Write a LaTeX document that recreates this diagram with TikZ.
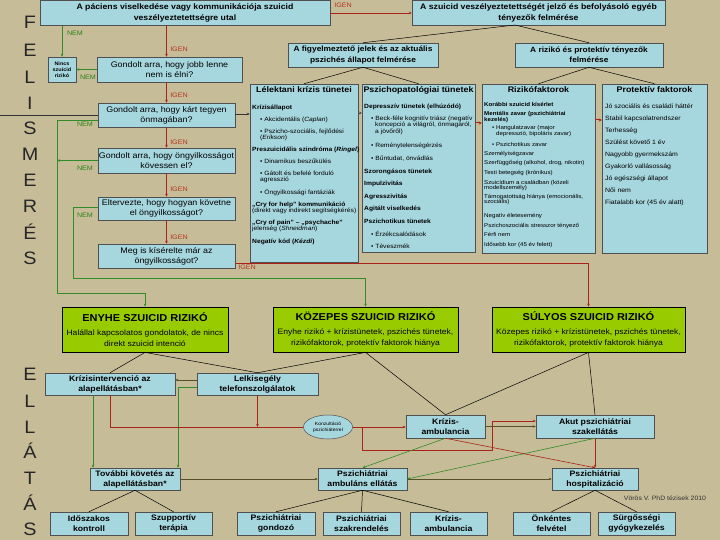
\documentclass[tikz,border=0pt]{standalone}
\usepackage{fontspec}
\setmainfont{Liberation Sans}[FakeStretch=1.1]
\usetikzlibrary{arrows.meta,shapes.geometric}
\definecolor{bg}{RGB}{199,188,152}
\definecolor{boxblue}{RGB}{166,214,222}
\definecolor{boxborder}{RGB}{80,80,80}
\definecolor{boxgreen}{RGB}{153,204,0}
\definecolor{redline}{RGB}{170,35,25}
\definecolor{greenline}{RGB}{50,140,40}
\definecolor{oliveline}{RGB}{85,80,40}
\definecolor{igentext}{RGB}{180,50,30}
\definecolor{nemtext}{RGB}{40,130,20}
\newcommand{\myfs}[2]{\fontsize{#1}{#2}\selectfont}
\begin{document}
\begin{tikzpicture}[x=1pt,y=-1pt,
  bbox/.style={draw=boxborder, fill=boxblue, line width=0.5pt, inner sep=0.5pt, align=center},
  tb/.style={bbox, font=\bfseries\myfs{7.9}{11}},
  qb/.style={bbox, font=\myfs{8.1}{10}},
  eb/.style={bbox, font=\bfseries\myfs{7.9}{10}},
  gb/.style={draw=black, fill=boxgreen, line width=0.8pt, inner sep=0.5pt, align=center, font=\myfs{7.8}{11}},
  cb/.style={draw=boxborder, fill=boxblue, line width=0.5pt, inner sep=0pt},
  ttl/.style={font=\bfseries\myfs{8.1}{9}, inner sep=0pt},
  txt/.style={anchor=north west, align=left, inner sep=0pt},
  letter/.style={font=\myfs{18}{20}, text=black!85, inner sep=0pt},
  igen/.style={font=\myfs{6.5}{7}, text=igentext, inner sep=0pt},
  nem/.style={font=\myfs{6.5}{7}, text=nemtext, inner sep=0pt},
  arw/.style={-{Stealth[length=3pt,width=2.6pt]}},
  rl/.style={draw=redline, line width=0.6pt},
  gl/.style={draw=greenline, line width=0.6pt},
  ol/.style={draw=oliveline, line width=0.6pt},
  bl/.style={draw=black, line width=0.5pt},
]
\fill[bg] (0,0) rectangle (720,540);
\useasboundingbox (0,0) rectangle (720,540);

% side letters
\foreach \ch/\yy [count=\i] in {F/22,E/50,L/77,I/103,S/128,M/154,E/180,R/206,É/232,S/258}
  \node[letter] (fel\i) at (30,\yy) {\ch};
\foreach \ch/\yy [count=\i] in {E/374,L/401,L/427,Á/451,T/478,Á/503,S/529}
  \node[letter] (ell\i) at (30,\yy) {\ch};

% top boxes
\node[tb, minimum width=290pt, minimum height=25pt] (a) at (185,13) {A páciens viselkedése vagy kommunikációja szuicid\\veszélyeztetettségre utal};
\node[tb, minimum width=253pt, minimum height=25pt] (b) at (538.5,13) {A szuicid veszélyeztetettségét jelző és befolyásoló egyéb\\tényezők felmérése};
\node[bbox, font=\bfseries\myfs{5}{6.2}, minimum width=28pt, minimum height=25pt] (nincs) at (62,69.5) {Nincs\\szuicid\\rizikó};
\node[qb, minimum width=145pt, minimum height=25pt] (q1) at (169.5,69.5) {Gondolt arra, hogy jobb lenne\\nem is élni?};
\node[qb, minimum width=137pt, minimum height=24pt] (q2) at (166.5,115) {Gondolt arra, hogy kárt tegyen\\önmagában?};
\node[qb, minimum width=137pt, minimum height=25pt] (q3) at (166.5,160.5) {Gondolt arra, hogy öngyilkosságot\\kövessen el?};
\node[qb, minimum width=137pt, minimum height=23pt] (q4) at (166.5,208.5) {Eltervezte, hogy hogyan követne\\el öngyilkosságot?};
\node[qb, minimum width=137pt, minimum height=24pt] (q5) at (166.5,256) {Meg is kísérelte már az\\öngyilkosságot?};
\node[tb, font=\bfseries\myfs{7.6}{10.5}, minimum width=150pt, minimum height=24pt] (f) at (363,55) {A figyelmeztető jelek és az aktuális\\pszichés állapot felmérése};
\node[tb, font=\bfseries\myfs{7.6}{10.5}, minimum width=148pt, minimum height=24pt] (r) at (589,55) {A rizikó és protektív tényezők\\felmérése};

% content boxes
\node[cb, minimum width=108pt, minimum height=178pt] (lel) at (304,173) {};
\node[cb, minimum width=113pt, minimum height=168pt] (psy) at (418.5,168) {};
\node[cb, minimum width=113pt, minimum height=169pt] (riz) at (538.5,168.5) {};
\node[cb, minimum width=105pt, minimum height=169pt] (prot) at (654.5,168.5) {};
\node[ttl] (lelt) at (304,90) {Lélektani krízis tünetei};
\node[ttl] (psyt) at (418.5,90) {Pszichopatológiai tünetek};
\node[ttl] (rizt) at (538.5,90) {Rizikófaktorok};
\node[ttl] (prott) at (654.5,90) {Protektív faktorok};

\node[txt, font=\myfs{6.1}{6}] (lelx) at (252,104.5) {%
\textbf{Krízisállapot}\\[6.5pt]
\hspace*{8pt}• Akcidentális (\textit{Caplan})\\[5.5pt]
\hspace*{8pt}• Pszicho-szociális, fejlődési\\
\hspace*{8pt}(\textit{Erikson})\\[6.5pt]
\textbf{Preszuicidális szindróma (\textit{Ringel})}\\[5.5pt]
\hspace*{8pt}• Dinamikus beszűkülés\\[6pt]
\hspace*{8pt}• Gátolt és befelé forduló\\
\hspace*{8pt}agresszió\\[6pt]
\hspace*{8pt}• Öngyilkossági fantáziák\\[6pt]
\textbf{„Cry for help” kommunikáció}\\
(direkt vagy indirekt segítségkérés)\\[6pt]
\textbf{„Cry of pain” – „psychache”}\\
jelenség (\textit{Shneidman})\\[7pt]
\textbf{Negatív kód (\textit{Kézdi})}};

\node[txt, font=\myfs{6.1}{6.3}] (psyx) at (364,103.5) {%
\textbf{Depresszív tünetek (elhúzódó)}\\[6pt]
\hspace*{7pt}• Beck-féle kognitív triász (negatív\\
\hspace*{11pt}koncepció a világról, önmagáról,\\
\hspace*{11pt}a jövőről)\\[8.5pt]
\hspace*{7pt}• Reménytelenségérzés\\[6.3pt]
\hspace*{7pt}• Bűntudat, önvádlás\\[6.3pt]
\textbf{Szorongásos tünetek}\\[6.3pt]
\textbf{Impulzivitás}\\[6.3pt]
\textbf{Agresszivitás}\\[6.3pt]
\textbf{Agitált viselkedés}\\[6.3pt]
\textbf{Pszichotikus tünetek}\\[6.3pt]
\hspace*{7pt}• Érzékcsalódások\\[6.3pt]
\hspace*{7pt}• Téveszmék};

\node[txt, font=\myfs{5.6}{5.5}] (rizx) at (484,102) {%
\textbf{Korábbi szuicid kísérlet}\\[4pt]
\textbf{Mentális zavar (pszichiátriai}\\
\textbf{kezelés)}\\[3pt]
\hspace*{8pt}• Hangulatzavar (major\\
\hspace*{12pt}depresszió, bipoláris zavar)\\[6pt]
\hspace*{8pt}• Pszichotikus zavar\\[3pt]
Személyiségzavar\\[4pt]
Szerfüggőség (alkohol, drog, nikotin)\\[4pt]
Testi betegség (krónikus)\\[4.5pt]
Szuicídium a családban (közeli\\
modellszemély)\\[3pt]
Támogatottság hiánya (emocionális,\\
szociális)\\[8pt]
Negatív életesemény\\[4.5pt]
Pszichoszociális stresszor tényező\\[4pt]
Férfi nem\\[4.5pt]
Idősebb kor (45 év felett)};

\node[txt, font=\myfs{6.3}{6.5}] (protx) at (605,103.5) {%
Jó szociális és családi háttér\\[5.5pt]
Stabil kapcsolatrendszer\\[5.5pt]
Terhesség\\[5.5pt]
Szülést követő 1 év\\[5.5pt]
Nagyobb gyermekszám\\[5.5pt]
Gyakorló vallásosság\\[5.5pt]
Jó egészségi állapot\\[5.5pt]
Női nem\\[5.5pt]
Fiatalabb kor (45 év alatt)};

% risk boxes
\node[gb, minimum width=166pt, minimum height=45pt] (eny) at (145,329.5) {{\bfseries\myfs{10}{11}ENYHE SZUICID RIZIKÓ}\\[3pt]Halállal kapcsolatos gondolatok, de nincs\\direkt szuicid intenció};
\node[gb, minimum width=185pt, minimum height=45pt] (koz) at (365.5,329.5) {{\bfseries\myfs{10}{11}KÖZEPES SZUICID RIZIKÓ}\\[3pt]Enyhe rizikó + krízistünetek, pszichés tünetek,\\rizikófaktorok, protektív faktorok hiánya};
\node[gb, minimum width=193pt, minimum height=45pt] (sul) at (588.5,329.5) {{\bfseries\myfs{10}{11}SÚLYOS SZUICID RIZIKÓ}\\[3pt]Közepes rizikó + krízistünetek, pszichés tünetek,\\rizikófaktorok, protektív faktorok hiánya};

% care boxes
\node[eb, minimum width=130pt, minimum height=22pt] (kint) at (110,384) {Krízisintervenció az\\alapellátásban*};
\node[eb, minimum width=121pt, minimum height=22pt] (lelki) at (257.5,384) {Lelkisegély\\telefonszolgálatok};
\node[ellipse, draw=boxborder, fill=boxblue, line width=0.5pt, minimum width=49pt, minimum height=24pt, inner sep=0pt, align=center, font=\myfs{4.6}{5.8}] (kons) at (328,427) {Konzultáció\\pszichiáterrel};
\node[eb, minimum width=79pt, minimum height=23pt] (kamb) at (445.5,426.5) {Krízis-\\ambulancia};
\node[eb, minimum width=118pt, minimum height=23pt] (akut) at (595,426.5) {Akut pszichiátriai\\szakellátás};
\node[eb, minimum width=90pt, minimum height=22pt] (tov) at (135,479) {További követés az\\alapellátásban*};
\node[eb, minimum width=89pt, minimum height=22pt] (psamb) at (362.5,479) {Pszichiátriai\\ambuláns ellátás};
\node[eb, minimum width=86pt, minimum height=22pt] (hosp) at (595,479) {Pszichiátriai\\hospitalizáció};
\node[eb, minimum width=78pt, minimum height=23pt] (idosz) at (89,523.5) {Időszakos\\kontroll};
\node[eb, minimum width=77pt, minimum height=23pt] (szupp) at (173.5,523.5) {Szupportív\\terápia};
\node[eb, minimum width=78pt, minimum height=23pt] (gond) at (276,523.5) {Pszichiátriai\\gondozó};
\node[eb, minimum width=77pt, minimum height=23pt] (szak) at (361.5,523.5) {Pszichiátriai\\szakrendelés};
\node[eb, minimum width=77pt, minimum height=23pt] (kamb2) at (448.5,523.5) {Krízis-\\ambulancia};
\node[eb, minimum width=77pt, minimum height=23pt] (onk) at (551.5,523.5) {Önkéntes\\felvétel};
\node[eb, minimum width=77pt, minimum height=23pt] (surg) at (636.5,523.5) {Sürgősségi\\gyógykezelés};
\node[font=\myfs{6.3}{7}, text=black!80, inner sep=0pt] (src) at (665,498) {Vörös V. PhD tézisek 2010};

% ---- connectors: top
\draw[rl,arw] (a.east) -- (b.west);
\node[igen] (ig0) at (343,5) {IGEN};
\draw[gl,arw] (a.south -| nincs.north) -- (nincs.north);
\node[nem] (n0) at (75,33) {NEM};
\draw[gl,arw] (q1.west) -- (nincs.east);
\node[nem] (n1) at (88,77) {NEM};
\coordinate (xr) at (166.5,0);
\draw[rl,arw] (a.south -| xr) -- (q1.north -| xr);
\draw[rl,arw] (q1.south -| xr) -- (q2.north);
\draw[rl,arw] (q2.south) -- (q3.north);
\draw[rl,arw] (q3.south) -- (q4.north);
\draw[rl,arw] (q4.south) -- (q5.north);
\node[igen] (ig1) at (179,49) {IGEN};
\node[igen] (ig2) at (179,95) {IGEN};
\node[igen] (ig3) at (179,142) {IGEN};
\node[igen] (ig4) at (179,189) {IGEN};
\node[igen] (ig5) at (179,237) {IGEN};

% tree lines top
\coordinate (bb) at (515,25);
\draw[bl] (bb) -- (f.north);
\draw[bl] (bb) -- (r.north);
\draw[bl] (f.south) -- (lel.north);
\draw[bl] (f.south) -- (psy.north);
\draw[bl] (r.south) -- (riz.north);
\draw[bl] (r.south) -- (prot.north);

% rough line and small markers
\coordinate (l0) at (0,116);
\coordinate (l1) at (0,114);
\draw[draw=black!80, line width=1pt] (l0) -- (q2.west |- l0);
\draw[draw=black!80, line width=0.8pt, arw] (q2.east |- l1) -- (lel.west |- l1);
\coordinate (c113) at (0,113);
\coordinate (c123) at (0,123);
\coordinate (c120) at (0,120);
\draw[draw=black!70, line width=0.6pt, -{Stealth[length=2.5pt,width=2.5pt]}] (lel.east |- c113) -- (psy.west |- c113);
\draw[draw=redline, line width=1pt, -{Stealth[length=3pt,width=3pt]}] (psy.east |- c123) -- (riz.west |- c123);
\draw[draw=redline, line width=1pt, -{Stealth[length=3pt,width=3pt]}] (riz.east |- c120) -- (prot.west |- c120);

% NEM branches
\coordinate (g1) at (57,120);
\coordinate (g2) at (57,293);
\draw[gl,arw] (q2.west |- g1) -- (g1) -- (g2) -- (g2 -| eny.north) -- (eny.north);
\node[nem] (n2) at (85,124.5) {NEM};
\draw[gl,arw] (q3.west) -- (q3.west -| g1);
\node[nem] (n3) at (85,168) {NEM};
\coordinate (h1) at (73,207);
\coordinate (h2) at (73,278);
\draw[gl,arw] (q4.west |- h1) -- (h1) -- (h2) -- (h2 -| koz.north) -- (koz.north);
\node[nem] (n4) at (85,215) {NEM};

% Q5 IGEN -> severe
\coordinate (r1) at (588.5,263.5);
\draw[rl,arw] (q5.east |- r1) -- (r1) -- (sul.north);
\node[igen] (ig6) at (247,267.5) {IGEN};

% risk -> care
\draw[bl] (eny.south) -- (kint.north);
\draw[bl] (eny.south) -- (lelki.north);
\draw[bl] (koz.south) -- (lelki.north);
\draw[bl] (koz.south) -- (kamb.north);
\draw[bl] (sul.south) -- (kamb.north);
\draw[bl] (sul.south) -- (akut.north);

% care connectors
\coordinate (c380) at (0,380);
\draw[ol,arw] (lelki.west |- c380) -- (kint.east |- c380);
\coordinate (k1) at (178,387);
\draw[gl,arw] (lelki.west |- k1) -- (k1) -- (k1 |- tov.north);
\coordinate (k2) at (93,0);
\draw[gl,arw] (kint.south -| k2) -- (tov.north -| k2);
\coordinate (r2) at (110,427);
\draw[rl] (kint.south) -- (r2) -- (kons.west);
\draw[rl,arw] (lelki.south) -- (lelki.south |- r2);
\draw[rl,arw] (kons.east) -- (kamb.west |- kons.east);
\coordinate (r3) at (362,427);
\coordinate (r4) at (362,450);
\coordinate (r5) at (492,450);
\coordinate (r6) at (492,421);
\draw[rl,arw] (r3) -- (r4) -- (r5) -- (r6) -- (akut.west |- r6);
\draw[ol,arw] (kamb.east) -- (akut.west |- kamb.east);
\draw[gl,arw] (kamb.south) -- (psamb.north);
\draw[gl,arw] (akut.south) -- (psamb.east);
\draw[rl,arw] (kamb.south) -- (hosp.north);
\draw[rl,arw] (akut.south) -- (hosp.north);
\draw[ol,arw] (tov.east) -- (psamb.west);
\draw[ol,arw] (psamb.east) -- (hosp.west);

% bottom tree
\draw[bl] (tov.south) -- (idosz.north);
\draw[bl] (tov.south) -- (szupp.north);
\draw[bl] (psamb.south) -- (gond.north);
\draw[bl] (psamb.south) -- (szak.north);
\draw[bl] (psamb.south) -- (kamb2.north);
\draw[bl] (hosp.south) -- (onk.north);
\draw[bl] (hosp.south) -- (surg.north);
\end{tikzpicture}
\end{document}
